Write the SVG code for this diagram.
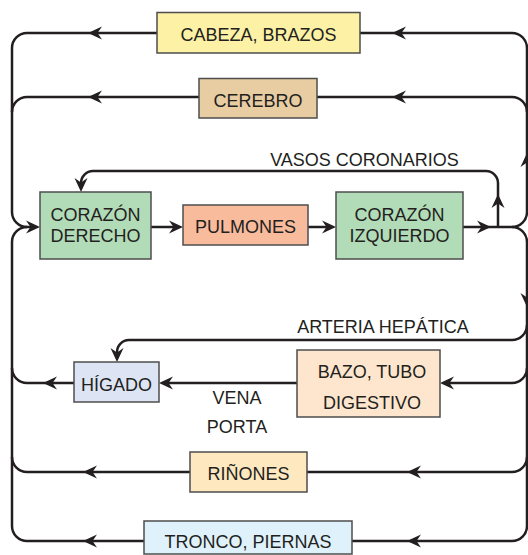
<svg xmlns="http://www.w3.org/2000/svg" xmlns:xlink="http://www.w3.org/1999/xlink" width="528" height="555" viewBox="0 0 528 555">
<style>
.box{stroke:#4d4d4d;stroke-width:1.5}
.t{font-family:"Liberation Sans",Arial,sans-serif;font-size:18px;fill:#231f20;text-anchor:middle}
.c{fill:none;stroke:#231f20;stroke-width:2.5;stroke-linecap:butt}
.ah{fill:#231f20}
</style>
<defs>
<path id="ah" d="M0,0 L-14,-6.5 L-9.5,0 L-14,6.5 Z"/>
</defs>
<rect width="528" height="555" fill="#ffffff"/>
<g id="connectors">
<path class="c" d="M157,33 H27 A15,15 0 0 0 12,48 V212 A15,15 0 0 0 27,227 H36"/>
<path class="c" d="M199,97 H27 A15,15 0 0 0 12,112"/>
<path class="c" d="M12,526 V242 A15,15 0 0 1 27,227"/>
<path class="c" d="M74,383 H27 A15,15 0 0 1 12,368"/>
<path class="c" d="M190,472 H27 A15,15 0 0 1 12,457"/>
<path class="c" d="M144,541 H27 A15,15 0 0 1 12,526"/>
<path class="c" d="M463,227 H512 A15,15 0 0 0 527,212 V48 A15,15 0 0 0 512,33 H360"/>
<path class="c" d="M527,112 A15,15 0 0 0 512,97 H317"/>
<path class="c" d="M512,227 A15,15 0 0 1 527,242 V526 A15,15 0 0 1 512,541 H352"/>
<path class="c" d="M527,325 A15,15 0 0 1 512,340 H129 A12,12 0 0 0 117,352 V358"/>
<path class="c" d="M527,368 A15,15 0 0 1 512,383 H444"/>
<path class="c" d="M527,457 A15,15 0 0 1 512,472 H307"/>
<path class="c" d="M498,227 V183 A12,12 0 0 0 486,171 H93 A12,12 0 0 0 81,183 V188"/>
<path class="c" d="M151,227 H179"/>
<path class="c" d="M308,227 H332"/>
<path class="c" d="M297,383 H163"/>
<g class="ah">
<use xlink:href="#ah" transform="translate(88,33) rotate(180)"/>
<use xlink:href="#ah" transform="translate(392,33) rotate(180)"/>
<use xlink:href="#ah" transform="translate(88,97) rotate(180)"/>
<use xlink:href="#ah" transform="translate(392,97) rotate(180)"/>
<use xlink:href="#ah" transform="translate(81,192) rotate(90)"/>
<use xlink:href="#ah" transform="translate(498,194) rotate(-90)"/>
<use xlink:href="#ah" transform="translate(40,227)"/>
<use xlink:href="#ah" transform="translate(183,227)"/>
<use xlink:href="#ah" transform="translate(336,227)"/>
<use xlink:href="#ah" transform="translate(491,227)"/>
<use xlink:href="#ah" transform="translate(527,153) rotate(-90)"/>
<use xlink:href="#ah" transform="translate(527,307) rotate(90)"/>
<use xlink:href="#ah" transform="translate(117,362) rotate(90)"/>
<use xlink:href="#ah" transform="translate(159,383) rotate(180)"/>
<use xlink:href="#ah" transform="translate(43,383) rotate(180)"/>
<use xlink:href="#ah" transform="translate(440,383) rotate(180)"/>
<use xlink:href="#ah" transform="translate(83,472) rotate(180)"/>
<use xlink:href="#ah" transform="translate(407,472) rotate(180)"/>
<use xlink:href="#ah" transform="translate(83,541) rotate(180)"/>
<use xlink:href="#ah" transform="translate(407,541) rotate(180)"/>
</g>
<text class="t" x="364.5" y="166">VASOS CORONARIOS</text>
<text class="t" x="383" y="333">ARTERIA HEPÁTICA</text>
<text class="t" x="237" y="404">VENA</text>
<text class="t" x="237" y="433">PORTA</text>
</g>
<g id="cabeza">
<rect class="box" x="157" y="12.5" width="203" height="40.5" fill="#fdf1a5"/>
<text class="t" x="258.5" y="41">CABEZA, BRAZOS</text>
</g>
<g id="cerebro">
<rect class="box" x="199" y="78.5" width="118" height="39.5" fill="#e9cda2"/>
<text class="t" x="258" y="107">CEREBRO</text>
</g>
<g id="corazon-derecho">
<rect class="box" x="40" y="192" width="111" height="67" fill="#b2dbb8"/>
<text class="t" x="95.5" y="221">CORAZÓN</text>
<text class="t" x="95.5" y="242">DERECHO</text>
</g>
<g id="pulmones">
<rect class="box" x="183" y="205" width="125" height="40" fill="#f8bb9c"/>
<text class="t" x="245.5" y="233">PULMONES</text>
</g>
<g id="corazon-izquierdo">
<rect class="box" x="336" y="192" width="127" height="67" fill="#b2dbb8"/>
<text class="t" x="399.5" y="221">CORAZÓN</text>
<text class="t" x="399.5" y="242">IZQUIERDO</text>
</g>
<g id="higado">
<rect class="box" x="74" y="362" width="85" height="40" fill="#dde5f4"/>
<text class="t" x="116.5" y="391">HÍGADO</text>
</g>
<g id="bazo">
<rect class="box" x="297" y="350" width="143" height="67" fill="#fde6cd"/>
<text class="t" x="372" y="378">BAZO, TUBO</text>
<text class="t" x="372" y="409">DIGESTIVO</text>
</g>
<g id="rinones">
<rect class="box" x="190" y="452" width="117" height="40" fill="#fde8bf"/>
<text class="t" x="248.5" y="480">RIÑONES</text>
</g>
<g id="tronco">
<rect class="box" x="144" y="521" width="208" height="33" fill="#dff2fb"/>
<text class="t" x="248" y="548">TRONCO, PIERNAS</text>
</g>
</svg>
